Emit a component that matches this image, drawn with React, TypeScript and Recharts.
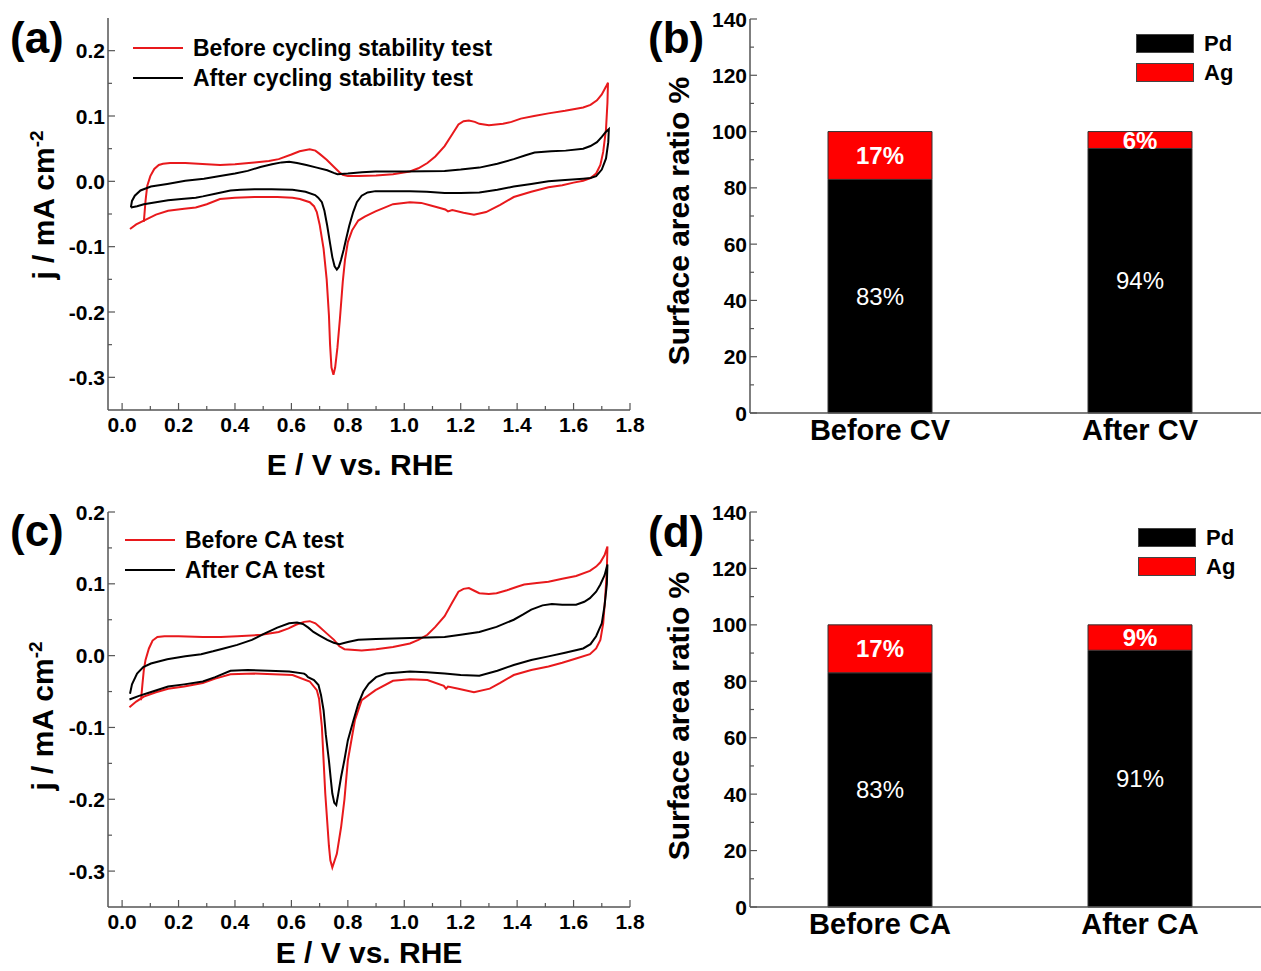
import React from 'react';
import { LineChart, Line, XAxis, YAxis, BarChart, Bar, LabelList, Legend } from 'recharts';

const FONT = '"Liberation Sans", Arial, Helvetica, sans-serif';
const RED_LINE = '#e8191c';
const RED_BAR = '#ff0000';
const AXIS = '#555';

// CV curves as [E (V vs. RHE), j (mA cm-2)] in scan order
const beforeCycling: [number, number][] = [
  [0.077, -0.062], [0.083, -0.03], [0.089, -0.007], [0.1, 0.008], [0.114, 0.019], [0.13, 0.025], [0.145, 0.027],
  [0.17, 0.028], [0.224, 0.028], [0.3, 0.026], [0.347, 0.025], [0.4, 0.026], [0.469, 0.029], [0.52, 0.031],
  [0.555, 0.034], [0.6, 0.041], [0.629, 0.046], [0.665, 0.049], [0.685, 0.047], [0.7, 0.042], [0.725, 0.033],
  [0.751, 0.022], [0.77, 0.014], [0.782, 0.01], [0.8, 0.008], [0.837, 0.008], [0.9, 0.009], [0.96, 0.011],
  [1.02, 0.015], [1.05, 0.02], [1.082, 0.028], [1.11, 0.038], [1.143, 0.054], [1.17, 0.072], [1.192, 0.087],
  [1.21, 0.092], [1.229, 0.093], [1.25, 0.091], [1.266, 0.088], [1.3, 0.086], [1.35, 0.088], [1.38, 0.091],
  [1.413, 0.096], [1.46, 0.1], [1.511, 0.104], [1.57, 0.108], [1.634, 0.113], [1.66, 0.117], [1.683, 0.124],
  [1.7, 0.133], [1.715, 0.145], [1.722, 0.151],
  [1.72, 0.12], [1.715, 0.08], [1.705, 0.045], [1.695, 0.025], [1.68, 0.012], [1.66, 0.005], [1.634, 0.001],
  [1.6, -0.002], [1.56, -0.006], [1.511, -0.009], [1.45, -0.016], [1.388, -0.024], [1.34, -0.036], [1.29, -0.047],
  [1.247, -0.051], [1.21, -0.048], [1.17, -0.044], [1.155, -0.046], [1.145, -0.043], [1.12, -0.04], [1.094, -0.037],
  [1.06, -0.033], [1.02, -0.032], [0.96, -0.035], [0.898, -0.046], [0.86, -0.054], [0.837, -0.06], [0.815, -0.075],
  [0.8, -0.093], [0.79, -0.12], [0.782, -0.154], [0.772, -0.21], [0.763, -0.255], [0.755, -0.285], [0.749, -0.296],
  [0.742, -0.285], [0.737, -0.25], [0.733, -0.205], [0.725, -0.15], [0.714, -0.103], [0.7, -0.066], [0.69, -0.047],
  [0.68, -0.038], [0.665, -0.032], [0.63, -0.027], [0.604, -0.025], [0.55, -0.024], [0.469, -0.024], [0.4, -0.025],
  [0.347, -0.027], [0.3, -0.035], [0.261, -0.04], [0.22, -0.042], [0.163, -0.045], [0.12, -0.051], [0.077, -0.06],
  [0.05, -0.066], [0.028, -0.073],
];

const afterCycling: [number, number][] = [
  [0.031, -0.04], [0.035, -0.03], [0.045, -0.022], [0.065, -0.014], [0.102, -0.008], [0.16, -0.004], [0.224, 0.001],
  [0.29, 0.004], [0.347, 0.008], [0.4, 0.012], [0.445, 0.016], [0.49, 0.022], [0.531, 0.026], [0.565, 0.029],
  [0.592, 0.03], [0.62, 0.028], [0.653, 0.025], [0.69, 0.021], [0.727, 0.017], [0.75, 0.013], [0.763, 0.011],
  [0.8, 0.012], [0.85, 0.014], [0.898, 0.015], [1.0, 0.015], [1.143, 0.016], [1.2, 0.018], [1.266, 0.021],
  [1.33, 0.027], [1.388, 0.034], [1.43, 0.04], [1.462, 0.044], [1.52, 0.046], [1.572, 0.047], [1.634, 0.05],
  [1.66, 0.054], [1.683, 0.06], [1.7, 0.068], [1.715, 0.076], [1.725, 0.08],
  [1.723, 0.06], [1.715, 0.035], [1.7, 0.018], [1.68, 0.008], [1.66, 0.005],
  [1.634, 0.004], [1.57, 0.002], [1.511, 0.0], [1.45, -0.004], [1.388, -0.008], [1.33, -0.013], [1.266, -0.017],
  [1.2, -0.018], [1.143, -0.018], [1.08, -0.016], [1.02, -0.015], [0.96, -0.015], [0.898, -0.015], [0.87, -0.017],
  [0.849, -0.022], [0.832, -0.032], [0.819, -0.047], [0.805, -0.068], [0.794, -0.088], [0.785, -0.105],
  [0.776, -0.12], [0.768, -0.131], [0.761, -0.135], [0.753, -0.13], [0.745, -0.116], [0.737, -0.095],
  [0.727, -0.068], [0.717, -0.045], [0.708, -0.032], [0.695, -0.025], [0.684, -0.021], [0.65, -0.016],
  [0.604, -0.013], [0.53, -0.012], [0.469, -0.012], [0.42, -0.013], [0.384, -0.014], [0.33, -0.019],
  [0.286, -0.023], [0.261, -0.025], [0.21, -0.027], [0.163, -0.029], [0.12, -0.032], [0.077, -0.035],
  [0.053, -0.038], [0.031, -0.04],
];

const beforeCA: [number, number][] = [
  [0.067, -0.062], [0.072, -0.04], [0.077, -0.02], [0.083, -0.006], [0.095, 0.01], [0.108, 0.021], [0.125, 0.026],
  [0.15, 0.027], [0.2, 0.027], [0.286, 0.026], [0.35, 0.026], [0.408, 0.027], [0.494, 0.029], [0.555, 0.033],
  [0.59, 0.038], [0.616, 0.043], [0.645, 0.047], [0.665, 0.048], [0.685, 0.045], [0.7, 0.04], [0.725, 0.031],
  [0.751, 0.022], [0.77, 0.013], [0.788, 0.009], [0.849, 0.007], [0.9, 0.009], [0.96, 0.012], [1.02, 0.017],
  [1.05, 0.022], [1.082, 0.029], [1.11, 0.04], [1.143, 0.055], [1.17, 0.074], [1.192, 0.089], [1.21, 0.093],
  [1.229, 0.094], [1.25, 0.09], [1.266, 0.087], [1.3, 0.086], [1.327, 0.087], [1.364, 0.091], [1.4, 0.096],
  [1.425, 0.099], [1.47, 0.101], [1.511, 0.103], [1.56, 0.107], [1.609, 0.111], [1.658, 0.118], [1.68, 0.124],
  [1.695, 0.13], [1.71, 0.14], [1.72, 0.152],
  [1.718, 0.12], [1.712, 0.08], [1.705, 0.045], [1.695, 0.022], [1.68, 0.01], [1.658, 0.002], [1.609, -0.004],
  [1.56, -0.01], [1.511, -0.015], [1.45, -0.02], [1.388, -0.027], [1.34, -0.038], [1.303, -0.046], [1.247, -0.051],
  [1.192, -0.046], [1.155, -0.043], [1.148, -0.046], [1.14, -0.042], [1.082, -0.034], [1.02, -0.033], [0.96, -0.035],
  [0.898, -0.048], [0.849, -0.062], [0.825, -0.09], [0.8, -0.146], [0.788, -0.2], [0.776, -0.239], [0.761, -0.276],
  [0.745, -0.295], [0.738, -0.285], [0.733, -0.265], [0.72, -0.192], [0.708, -0.099], [0.698, -0.06], [0.69, -0.048],
  [0.665, -0.036], [0.604, -0.027], [0.469, -0.025], [0.384, -0.026], [0.33, -0.032], [0.286, -0.038],
  [0.22, -0.043], [0.163, -0.046], [0.12, -0.051], [0.077, -0.057], [0.05, -0.064], [0.026, -0.072],
];

const afterCA: [number, number][] = [
  [0.028, -0.053], [0.035, -0.04], [0.053, -0.025], [0.075, -0.016], [0.102, -0.011], [0.16, -0.005], [0.224, -0.001],
  [0.28, 0.002], [0.322, 0.006], [0.36, 0.01], [0.408, 0.015], [0.46, 0.022], [0.506, 0.031], [0.55, 0.039],
  [0.592, 0.045], [0.62, 0.046], [0.641, 0.044], [0.66, 0.039], [0.678, 0.033], [0.7, 0.028], [0.727, 0.022],
  [0.75, 0.018], [0.77, 0.016], [0.8, 0.019], [0.837, 0.022], [0.9, 0.023], [0.96, 0.024], [1.05, 0.025],
  [1.143, 0.026], [1.2, 0.029], [1.266, 0.033], [1.327, 0.04], [1.388, 0.05], [1.42, 0.057], [1.45, 0.064],
  [1.49, 0.07], [1.523, 0.072], [1.56, 0.071], [1.609, 0.071], [1.638, 0.075], [1.658, 0.08], [1.68, 0.089],
  [1.695, 0.099], [1.71, 0.112], [1.72, 0.127],
  [1.718, 0.1], [1.71, 0.07], [1.7, 0.045], [1.68, 0.027], [1.66, 0.016], [1.634, 0.01],
  [1.57, 0.004], [1.511, -0.001], [1.45, -0.006], [1.388, -0.013], [1.33, -0.021], [1.266, -0.028], [1.2, -0.027],
  [1.143, -0.025], [1.08, -0.023], [1.02, -0.022], [0.935, -0.025], [0.9, -0.03], [0.874, -0.039], [0.855, -0.05],
  [0.837, -0.067], [0.82, -0.09], [0.8, -0.118], [0.788, -0.145], [0.776, -0.169], [0.765, -0.195], [0.759, -0.208],
  [0.752, -0.205], [0.745, -0.192], [0.739, -0.17], [0.733, -0.146], [0.722, -0.11], [0.714, -0.076],
  [0.705, -0.055], [0.696, -0.041], [0.68, -0.034], [0.659, -0.03], [0.652, -0.027], [0.645, -0.025],
  [0.592, -0.022], [0.52, -0.021], [0.445, -0.02], [0.384, -0.021], [0.33, -0.03], [0.286, -0.036],
  [0.22, -0.04], [0.163, -0.043], [0.1, -0.051], [0.06, -0.056], [0.026, -0.061],
];

const cvXTicks = [0, 0.1, 0.2, 0.3, 0.4, 0.5, 0.6, 0.7, 0.8, 0.9, 1.0, 1.1, 1.2, 1.3, 1.4, 1.5, 1.6, 1.7, 1.8];
const cvYTicksA = [-0.3, -0.25, -0.2, -0.15, -0.1, -0.05, 0, 0.05, 0.1, 0.15, 0.2];
const cvYTicksC = [-0.3, -0.25, -0.2, -0.15, -0.1, -0.05, 0, 0.05, 0.1, 0.15, 0.2];

// surface area ratio (%)
const cvCategories = ['Before CV', 'After CV'];
const pdCV = [83, 94];
const agCV = [17, 6];
const caCategories = ['Before CA', 'After CA'];
const pdCA = [83, 91];
const agCA = [17, 9];
const barYTicks = [0, 10, 20, 30, 40, 50, 60, 70, 80, 90, 100, 110, 120, 130, 140];

const toPoints = (arr: [number, number][]) => arr.map(([E, j]) => ({ E, j }));

const isMultiple = (v: number, step: number) => Math.abs(v / step - Math.round(v / step)) < 1e-6;

// custom ticks: inward tick marks, longer on labelled values
const makeYTick = (axisX: number, major: (v: number) => boolean, fmt: (v: number) => string) => (props: any) => {
  const { y, payload } = props;
  const v = payload.value;
  const big = major(v);
  return (
    <g>
      <line x1={axisX} x2={axisX + (big ? 7 : 4)} y1={y} y2={y} stroke={AXIS} strokeWidth={1.2} />
      {big && (
        <text x={axisX - 3} y={y} dy="0.36em" textAnchor="end" fontFamily={FONT} fontWeight="bold" fontSize={21} fill="#000">
          {fmt(v)}
        </text>
      )}
    </g>
  );
};

const makeXTick = (axisY: number) => (props: any) => {
  const { x, payload } = props;
  const v = payload.value;
  const big = isMultiple(v, 0.2);
  return (
    <g>
      <line x1={x} x2={x} y1={axisY} y2={axisY - (big ? 7 : 4)} stroke={AXIS} strokeWidth={1.2} />
      {big && (
        <text x={x} y={axisY + 22} textAnchor="middle" fontFamily={FONT} fontWeight="bold" fontSize={21} fill="#000">
          {v.toFixed(1)}
        </text>
      )}
    </g>
  );
};

// keep legend entries in series order (Recharts sorts them by name otherwise)
const inOrder = (payload: any[] | undefined, order: string[]) =>
  [...(payload || [])].sort((a, b) => order.indexOf(a.value) - order.indexOf(b.value));

const cvLegend = (order: string[]) => (props: any) => (
  <div style={{ fontFamily: FONT, fontWeight: 'bold', fontSize: 23, color: '#000' }}>
    {inOrder(props.payload, order).map((p: any) => (
      <div key={p.value} style={{ display: 'flex', alignItems: 'center', height: 30, whiteSpace: 'nowrap' }}>
        <span style={{ display: 'inline-block', width: 50, borderTop: `2.5px solid ${p.color}`, marginRight: 10 }} />
        <span>{p.value}</span>
      </div>
    ))}
  </div>
);

const barLegend = (props: any) => (
  <div style={{ fontFamily: FONT, fontWeight: 'bold', fontSize: 22, color: '#000' }}>
    {inOrder(props.payload, ['Pd', 'Ag']).map((p: any) => (
      <div key={p.value} style={{ display: 'flex', alignItems: 'center', height: 29, whiteSpace: 'nowrap' }}>
        <span style={{ display: 'inline-block', width: 58, height: 19, background: p.color, boxSizing: 'border-box', border: '1px solid #444', marginRight: 10 }} />
        <span>{p.value}</span>
      </div>
    ))}
  </div>
);

interface CvPanelProps {
  top: number;
  height: number;
  marginTop: number;
  marginBottom: number;
  yDomain: [number, number];
  yTicks: number[];
  red: [number, number][];
  black: [number, number][];
  redName: string;
  blackName: string;
  legendPos: { left: number; top: number };
}

function CvPanel(p: CvPanelProps) {
  const plotLeft = 48 + 60;
  const plotBottom = p.height - p.marginBottom - 30;
  const axisLine = { stroke: AXIS, strokeWidth: 1.5 };
  return (
    <div style={{ position: 'absolute', left: 0, top: p.top, width: 660, height: p.height }}>
      <LineChart width={660} height={p.height} margin={{ top: p.marginTop, right: 30, bottom: p.marginBottom, left: 48 }}>
        <XAxis dataKey="E" type="number" domain={[-0.05, 1.8]} ticks={cvXTicks} interval={0} allowDataOverflow height={30}
          tickSize={0} tickLine={false} axisLine={axisLine} tick={makeXTick(plotBottom)} />
        <XAxis xAxisId="top" orientation="top" type="number" domain={[-0.05, 1.8]} height={0} tick={false} tickLine={false} axisLine={axisLine} />
        <YAxis type="number" domain={p.yDomain} ticks={p.yTicks} interval={0} allowDataOverflow width={60}
          tickSize={0} tickLine={false} axisLine={axisLine}
          tick={makeYTick(plotLeft, (v) => isMultiple(v, 0.1), (v) => v.toFixed(1))} />
        <YAxis yAxisId="right" orientation="right" type="number" domain={p.yDomain} width={0} tick={false} tickLine={false} axisLine={axisLine} />
        <Legend layout="vertical" align="center" verticalAlign="middle" content={cvLegend([p.redName, p.blackName])}
          wrapperStyle={{ left: p.legendPos.left, top: p.legendPos.top, width: 'auto' }} />
        <Line data={toPoints(p.red)} dataKey="j" name={p.redName} type="linear" stroke={RED_LINE} strokeWidth={2} dot={false} isAnimationActive={false} />
        <Line data={toPoints(p.black)} dataKey="j" name={p.blackName} type="linear" stroke="#000" strokeWidth={2} dot={false} isAnimationActive={false} />
      </LineChart>
    </div>
  );
}

interface BarPanelProps {
  top: number;
  height: number;
  marginTop: number;
  marginBottom: number;
  categories: string[];
  pd: number[];
  ag: number[];
  legendPos: { left: number; top: number };
}

function BarPanel(p: BarPanelProps) {
  const rows = p.categories.map((name, i) => ({ name, Pd: p.pd[i], Ag: p.ag[i] }));
  const axisLine = { stroke: AXIS, strokeWidth: 1.5 };
  const labelStyle = { fill: '#fff', fontSize: 24, fontFamily: FONT };
  return (
    <div style={{ position: 'absolute', left: 640, top: p.top, width: 621, height: p.height, overflow: 'hidden' }}>
      <BarChart width={640} height={p.height} data={rows} margin={{ top: p.marginTop, right: 10, bottom: p.marginBottom, left: 50 }}>
        <XAxis dataKey="name" height={40} interval={0} tickLine={false} tickSize={0} tickMargin={6} axisLine={axisLine}
          tick={{ fontFamily: FONT, fontWeight: 'bold', fontSize: 29, fill: '#000' }} />
        <XAxis xAxisId="top" orientation="top" dataKey="name" height={0} tick={false} tickLine={false} axisLine={axisLine} />
        <YAxis type="number" domain={[0, 140]} ticks={barYTicks} interval={0} width={60} tickSize={0} tickLine={false}
          axisLine={axisLine} tick={makeYTick(110, (v) => v % 20 === 0, (v) => String(v))} />
        <Legend layout="vertical" align="center" verticalAlign="middle" content={barLegend}
          wrapperStyle={{ left: p.legendPos.left, top: p.legendPos.top, width: 'auto' }} />
        <Bar dataKey="Pd" name="Pd" stackId="s" fill="#000" stroke="#333" strokeWidth={1} barSize={104} isAnimationActive={false}>
          <LabelList dataKey="Pd" position="center" formatter={(v: any) => `${v}%`} {...labelStyle} />
        </Bar>
        <Bar dataKey="Ag" name="Ag" stackId="s" fill={RED_BAR} stroke="#333" strokeWidth={1} barSize={104} isAnimationActive={false}>
          <LabelList dataKey="Ag" position="center" formatter={(v: any) => `${v}%`} {...labelStyle} fontWeight="bold" />
        </Bar>
      </BarChart>
    </div>
  );
}

const titleProps = { fontFamily: FONT, fontWeight: 'bold' as const, fill: '#000' };

export default function App() {
  return (
    <div style={{ position: 'absolute', left: 0, top: 0, width: 1261, height: 971, overflow: 'hidden', background: '#fff' }}>
      <CvPanel top={0} height={480} marginTop={18} marginBottom={40} yDomain={[-0.35, 0.25]} yTicks={cvYTicksA}
        red={beforeCycling} black={afterCycling} redName="Before cycling stability test" blackName="After cycling stability test"
        legendPos={{ left: 133, top: 33 }} />
      <BarPanel top={0} height={480} marginTop={19} marginBottom={27} categories={cvCategories} pd={pdCV} ag={agCV}
        legendPos={{ left: 496, top: 29 }} />
      <CvPanel top={490} height={481} marginTop={22} marginBottom={34} yDomain={[-0.35, 0.2]} yTicks={cvYTicksC}
        red={beforeCA} black={afterCA} redName="Before CA test" blackName="After CA test"
        legendPos={{ left: 125, top: 35 }} />
      <BarPanel top={490} height={481} marginTop={22} marginBottom={24} categories={caCategories} pd={pdCA} ag={agCA}
        legendPos={{ left: 498, top: 33 }} />
      <svg width={1261} height={971} style={{ position: 'absolute', left: 0, top: 0, pointerEvents: 'none' }}>
        <text x={10} y={53} fontSize={44} {...titleProps}>(a)</text>
        <text x={648} y={53} fontSize={44} {...titleProps}>(b)</text>
        <text x={10} y={546} fontSize={44} {...titleProps}>(c)</text>
        <text x={648} y={547} fontSize={44} {...titleProps}>(d)</text>
        <text x={360} y={475} fontSize={30} textAnchor="middle" {...titleProps}>E / V vs. RHE</text>
        <text x={369} y={963} fontSize={30} textAnchor="middle" {...titleProps}>E / V vs. RHE</text>
        <text transform="translate(54,205) rotate(-90)" fontSize={30} textAnchor="middle" {...titleProps}>
          j / mA cm<tspan dy={-11} fontSize={19}>-2</tspan>
        </text>
        <text transform="translate(53,716) rotate(-90)" fontSize={30} textAnchor="middle" {...titleProps}>
          j / mA cm<tspan dy={-11} fontSize={19}>-2</tspan>
        </text>
        <text transform="translate(689,221) rotate(-90)" fontSize={30} textAnchor="middle" {...titleProps}>Surface area ratio %</text>
        <text transform="translate(689,716) rotate(-90)" fontSize={30} textAnchor="middle" {...titleProps}>Surface area ratio %</text>
      </svg>
    </div>
  );
}
